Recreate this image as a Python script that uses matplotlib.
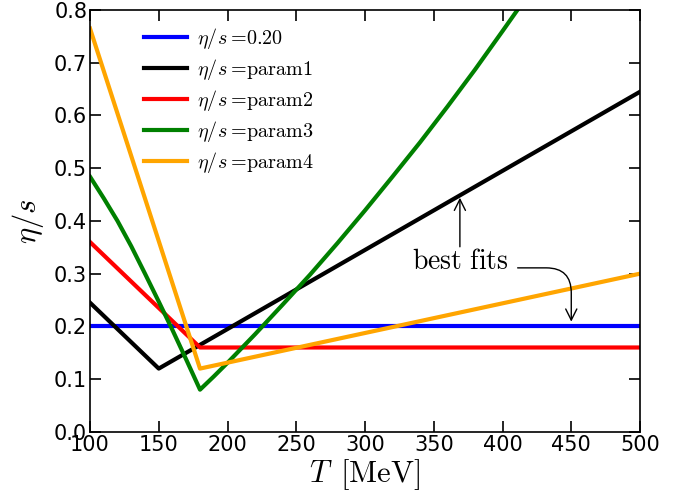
import matplotlib
matplotlib.use("Agg")
import matplotlib.pyplot as plt

plt.rcParams['mathtext.fontset'] = 'cm'

# data
blue_T = [100, 500]
blue_v = [0.20, 0.20]
black_T = [100, 150, 500]
black_v = [0.245, 0.12, 0.645]
red_T = [100, 180, 500]
red_v = [0.36, 0.16, 0.16]
green_T = [100, 110, 120, 130, 140, 150, 160, 170, 180, 190, 200, 220, 240, 260, 280,
           300, 320, 340, 360, 380, 400, 420]
green_v = [0.484, 0.443, 0.400, 0.352, 0.300, 0.247, 0.193, 0.137, 0.080, 0.105, 0.131,
           0.185, 0.241, 0.298, 0.358, 0.420, 0.484, 0.549, 0.617, 0.687, 0.760, 0.834]
orange_T = [100, 180, 500]
orange_v = [0.765, 0.12, 0.30]

labels = [r'$\eta/s =\!\mathrm{0.20}$', r'$\eta/s =\!\mathrm{param1}$', r'$\eta/s =\!\mathrm{param2}$',
          r'$\eta/s =\!\mathrm{param3}$', r'$\eta/s =\!\mathrm{param4}$']
xticks = [100, 150, 200, 250, 300, 350, 400, 450, 500]
yticks = [0.0, 0.1, 0.2, 0.3, 0.4, 0.5, 0.6, 0.7, 0.8]

fig = plt.figure(figsize=(6.95, 5.01), dpi=100)
ax = fig.add_axes([0.1295, 0.138, 0.7914, 0.842])

lw = 3
ax.plot(blue_T, blue_v, color='#0000ff', lw=lw, label=labels[0])
ax.plot(black_T, black_v, color='black', lw=lw, label=labels[1])
ax.plot(red_T, red_v, color='#ff0000', lw=lw, label=labels[2])
ax.plot(green_T, green_v, color='#008000', lw=lw, label=labels[3])
ax.plot(orange_T, orange_v, color='#ffa500', lw=lw, label=labels[4])

ax.set_xlim(100, 500)
ax.set_ylim(0, 0.8)
ax.set_xticks(xticks)
ax.set_yticks(yticks)
ax.set_xticklabels([str(t) for t in xticks])
ax.set_yticklabels(['%.1f' % t for t in yticks])
ax.tick_params(direction='in', length=8, width=1.2, top=True, right=True, labelsize=15, pad=2)
for s in ax.spines.values():
    s.set_linewidth(1.2)

ax.set_xlabel(r'$T\ \,[\mathrm{MeV}]$', fontsize=22, labelpad=2)
ax.set_ylabel(r'$\eta/s$', fontsize=22, labelpad=6)

leg = ax.legend(loc='upper left', bbox_to_anchor=(0.066, 1.005), frameon=False, fontsize=14.5,
                handlelength=2.1, labelspacing=0.3, handletextpad=0.5)

ax.text(369, 0.324, r'$\mathrm{best\ fits}$', fontsize=20, ha='center', va='center')
ax.annotate('', xy=(369, 0.444), xytext=(369, 0.351),
            arrowprops=dict(arrowstyle='->', lw=1, color='black', mutation_scale=20, shrinkA=0, shrinkB=0))
ax.annotate('', xy=(450, 0.209), xytext=(411, 0.311),
            arrowprops=dict(arrowstyle='->', lw=1, color='black', mutation_scale=20, shrinkA=0, shrinkB=0,
                            connectionstyle='angle,angleA=0,angleB=90,rad=25'))

fig.savefig('out.png', dpi=100)
